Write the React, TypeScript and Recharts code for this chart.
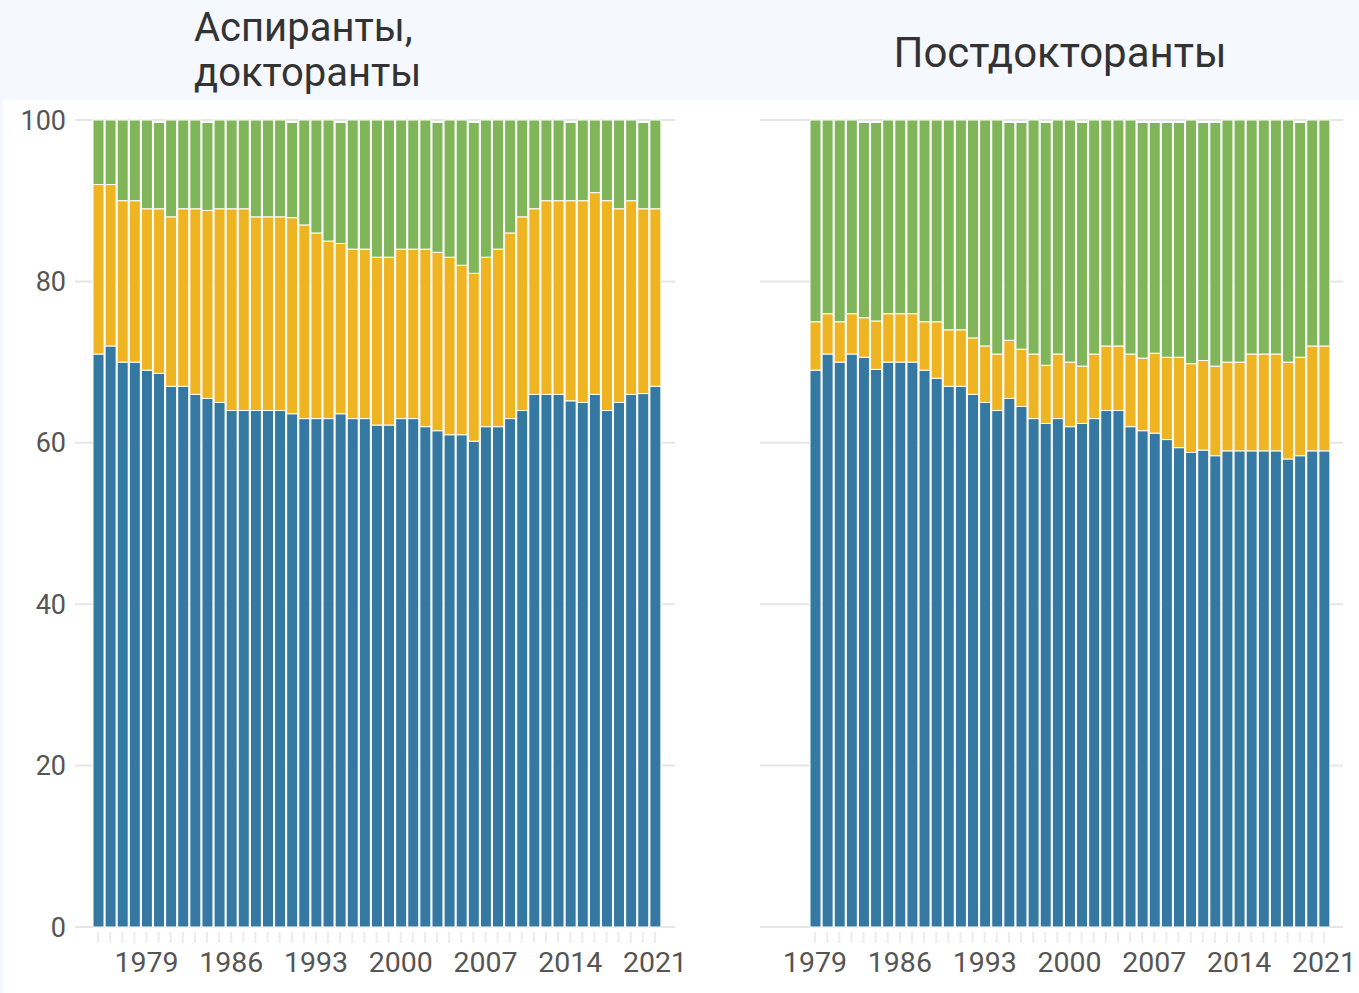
import React from "react";
import { BarChart, Bar, XAxis, YAxis, CartesianGrid } from "recharts";

const leftYears = [1975,1976,1977,1978,1979,1980,1981,1982,1983,1984,1985,1986,1987,1988,1989,1990,1991,1992,1993,1994,1995,1996,1997,1998,1999,2000,2001,2002,2003,2004,2005,2006,2007,2008,2009,2010,2011,2012,2013,2014,2015,2016,2017,2018,2019,2020,2021];
const leftBlue = [71,72,70,70,69,68.6,67,67,66,65.5,65,64,64,64,64,64,63.6,63,63,63,63.6,63,63,62.2,62.2,63,63,62,61.5,61,61,60.2,62,62,63,64,66,66,66,65.2,65,66,64,65,66,66.1,67];
const leftYellow = [21,20,20,20,20,20.4,21,22,23,23.3,24,25,25,24,24,24,24.3,24,23,22,21.1,21,21,20.8,20.8,21,21,22,22.1,22,21,20.8,21,22,23,24,23,24,24,24.8,25,25,26,24,24,22.9,22];
const leftGreen = [8,8,10,10,11,10.7,12,11,11,10.9,11,11,11,12,12,12,11.8,13,14,15,15,16,16,17,17,16,16,16,16.1,17,18,18.7,17,16,14,12,11,10,10,9.7,10,9,10,11,10,10.7,11];

const rightYears = [1979,1980,1981,1982,1983,1984,1985,1986,1987,1988,1989,1990,1991,1992,1993,1994,1995,1996,1997,1998,1999,2000,2001,2002,2003,2004,2005,2006,2007,2008,2009,2010,2011,2012,2013,2014,2015,2016,2017,2018,2019,2020,2021];
const rightBlue = [69,71,70,71,70.6,69.1,70,70,70,69,68,67,67,66,65,64,65.5,64.5,63,62.4,63,62,62.4,63,64,64,62,61.5,61.2,60.4,59.4,58.8,59.1,58.4,59,59,59,59,59,58,58.4,59,59];
const rightYellow = [6,5,5,5,4.9,6,6,6,6,6,7,7,7,7,7,7,7.2,7.1,8,7.2,8,8,7.1,8,8,8,9,9,9.9,10.2,11.2,11,11.1,11.1,11,11,12,12,12,12,12.2,13,13];
const rightGreen = [25,24,25,24,24.2,24.6,24,24,24,25,25,26,26,27,28,29,27,28.1,29,30.1,29,30,30.2,29,28,28,29,29.2,28.6,29.1,29.1,30.2,29.5,30.2,30,30,29,29,29,30,29.1,28,28];

const yTicks = [0, 20, 40, 60, 80, 100];
const labelYears = [1979, 1986, 1993, 2000, 2007, 2014, 2021];

const leftTitle = ["Аспиранты,", "докторанты"];
const rightTitle = "Постдокторанты";

const BLUE = "#3579a2";
const YELLOW = "#efb422";
const GREEN = "#80b55a";
const FONT = "Roboto, 'Noto Sans', sans-serif";

const build = (years: number[], b: number[], y: number[], g: number[]) =>
  years.map((yr, i) => ({ year: yr, blue: b[i], yellow: y[i], green: g[i] }));

const leftData = build(leftYears, leftBlue, leftYellow, leftGreen);
const rightData = build(rightYears, rightBlue, rightYellow, rightGreen);

const XTick = (props: any) => {
  const { x, y, payload } = props;
  const show = labelYears.includes(Number(payload.value));
  return (
    <g>
      <line x1={x} x2={x} y1={y + 5} y2={y + 16} stroke="#ececec" strokeWidth={2} />
      {show && (
        <text x={x} y={y + 45} textAnchor="middle" fontSize={28.5} fill="#555" fontFamily={FONT}>
          {payload.value}
        </text>
      )}
    </g>
  );
};

const YTick = (props: any) => {
  const { y, payload } = props;
  return (
    <text x={66} y={y + 9.5} textAnchor="end" fontSize={27} fill="#555" fontFamily={FONT}>
      {payload.value}
    </text>
  );
};

function Panel({ data, width, margin, padding, showY }: any) {
  return (
    <BarChart width={width} height={993} data={data} margin={margin} barSize={11}>
      <CartesianGrid vertical={false} stroke="#e6e6e6" strokeWidth={2} />
      <XAxis
        dataKey="year"
        interval={0}
        axisLine={false}
        tickLine={false}
        tickSize={0}
        tickMargin={0}
        height={50}
        padding={padding}
        tick={<XTick />}
      />
      <YAxis
        domain={[0, 100]}
        ticks={yTicks}
        width={showY ? 75 : 0}
        hide={!showY}
        axisLine={false}
        tickLine={false}
        tick={<YTick />}
      />
      <Bar dataKey="blue" stackId="a" fill={BLUE} stroke="#fff" strokeWidth={1} isAnimationActive={false} />
      <Bar dataKey="yellow" stackId="a" fill={YELLOW} stroke="#fff" strokeWidth={1} isAnimationActive={false} />
      <Bar dataKey="green" stackId="a" fill={GREEN} stroke="#fff" strokeWidth={1} isAnimationActive={false} />
    </BarChart>
  );
}

export default function App() {
  return (
    <div style={{ position: "absolute", left: 0, top: 0, width: 1359, height: 993, background: "#f5f8fe", overflow: "hidden" }}>
      <div style={{ position: "absolute", left: 3, top: 100, width: 1356, height: 893, background: "#fff" }} />
      <div style={{ position: "absolute", left: 194, top: 5, fontFamily: FONT, fontSize: 40, lineHeight: "45px", color: "#333" }}>
        <div>{leftTitle[0]}</div>
        <div>{leftTitle[1]}</div>
      </div>
      <div style={{ position: "absolute", left: 700, width: 720, top: 29, textAlign: "center", fontFamily: FONT, fontSize: 42, lineHeight: "48px", color: "#333" }}>
        {rightTitle}
      </div>
      <div style={{ position: "absolute", left: 0, top: 0 }}>
        <Panel data={leftData} width={690} margin={{ top: 120, right: 15, left: 0, bottom: 16 }} padding={{ left: 17, right: 14 }} showY={true} />
      </div>
      <div style={{ position: "absolute", left: 700, top: 0 }}>
        <Panel data={rightData} width={659} margin={{ top: 120, right: 16, left: 60, bottom: 16 }} padding={{ left: 49, right: 13 }} showY={false} />
      </div>
    </div>
  );
}
